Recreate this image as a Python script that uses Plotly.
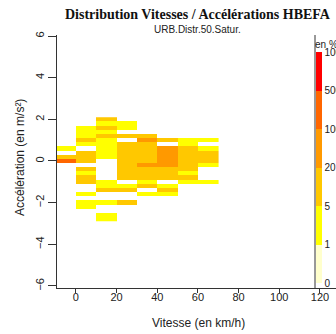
import numpy as np
import plotly.graph_objects as go

# --- data -------------------------------------------------------------
vitesse = [-5, 5, 15, 25, 35, 45, 55, 65]          # speed bin centres (km/h)
acceleration = [2.0, 1.8, 1.6, 1.4, 1.2, 1.0, 0.8, 0.6, 0.4, 0.2, 0.0,
                -0.2, -0.4, -0.6, -0.8, -1.0, -1.2, -1.4, -1.6, -1.8,
                -2.0, -2.2, -2.4, -2.6, -2.8]      # acceleration bin centres (m/s²)
N = None
# share per cell (en %), rows follow `acceleration`, columns follow `vitesse`
frequences = [
    [N,   N,  10, N,  N,  N,  N,  N],
    [N,   N,  2,  2,  N,  N,  N,  N],
    [N,   2,  10, 2,  N,  N,  N,  N],
    [N,   2,  2,  N,  N,  N,  N,  N],
    [N,   2,  10, 10, 10, N,  N,  N],
    [N,   10, 2,  N,  40, 10, 2,  2],
    [N,   2,  2,  10, 10, N,  2,  N],
    [2,   N,  2,  10, 10, 40, 10, 2],
    [N,   10, 2,  10, 10, 40, 10, 10],
    [10,  10, 2,  10, 10, 40, 10, 10],
    [150, 10, N,  10, 10, 40, 10, 10],
    [N,   N,  N,  10, 40, 40, 10, 2],
    [N,   10, N,  10, 10, 10, 10, N],
    [N,   2,  N,  10, 10, 10, 2,  N],
    [N,   10, N,  10, 10, 10, 10, N],
    [N,   10, 2,  N,  2,  N,  2,  2],
    [N,   N,  2,  2,  10, 2,  N,  N],
    [N,   N,  10, 10, N,  10, N,  N],
    [N,   2,  N,  N,  2,  2,  N,  N],
    [N,   N,  N,  N,  N,  N,  N,  N],
    [N,   2,  2,  10, N,  N,  N,  N],
    [N,   2,  N,  N,  N,  N,  N,  N],
    [N,   N,  N,  N,  N,  N,  N,  N],
    [N,   N,  2,  N,  N,  N,  N,  N],
    [N,   N,  2,  N,  N,  N,  N,  N],
]
classes = [0, 1, 5, 20, 100, 500, 1000]              # legend class limits
couleurs = ["#FFFFCC", "#FFFF00", "#FFC800", "#FF9900", "#FF6600", "#FF0000"]
x_ticks = [0, 20, 40, 60, 80, 100, 120]
y_ticks = [-6, -4, -2, 0, 2, 4, 6]

# --- map values to class index ----------------------------------------
vals = np.array([[np.nan if v is None else v for v in row] for row in frequences], float)
lev = np.where(np.isnan(vals), np.nan,
               np.clip(np.digitize(np.nan_to_num(vals), classes[1:-1]), 0, 5) + 0.5)

nc = len(couleurs)
cscale = []
for i, c in enumerate(couleurs):
    cscale.append([i / nc, c])
    cscale.append([(i + 1) / nc, c])

# --- geometry (pixels) --------------------------------------------------
W, H = 336, 334
L, R, T, B = 57, 0, 35, 46
pw, ph = W - L - R, H - T - B
def px(x):
    return (x - L) / pw
def py(y):
    return (H - B - y) / ph

font = "Liberation Sans, Arial, sans-serif"

fig = go.Figure(go.Heatmap(
    x=vitesse, y=acceleration, z=lev, zmin=0, zmax=nc,
    colorscale=cscale, hoverinfo="skip",
    colorbar=dict(
        thickness=6, thicknessmode="pixels",
        len=231, lenmode="pixels",
        x=px(316), xanchor="left", xpad=0,
        y=py(167.5), yanchor="middle", ypad=0,
        outlinewidth=0,
        tickvals=list(range(nc + 1)), ticktext=[str(c) for c in classes],
        ticks="", ticklen=0,
        tickfont=dict(family=font, size=10, color="#222"),
    ),
))

fig.update_layout(
    width=W, height=H,
    margin=dict(l=L, r=R, t=T, b=B, autoexpand=False),
    paper_bgcolor="white", plot_bgcolor="white",
    showlegend=False,
    xaxis=dict(range=[-9.3, 127.9], tickvals=x_ticks, ticks="outside", ticklen=4,
               tickcolor="#333", showline=True, linecolor="#333", linewidth=1,
               showgrid=False, zeroline=False, ticklabelstandoff=-5,
               tickfont=dict(family=font, size=11, color="#222")),
    yaxis=dict(range=[-6.1, 6.05], tickvals=y_ticks, ticks="outside", ticklen=8,
               tickcolor="#333", showline=True, linecolor="#333", linewidth=1,
               showgrid=False, zeroline=False, tickangle=-90,
               tickfont=dict(family=font, size=11, color="#222")),
    shapes=[dict(type="line", xref="paper", yref="paper",
                 x0=px(315), x1=px(315), y0=py(288), y1=py(35),
                 line=dict(color="#333", width=1))],
    annotations=[
        dict(text="<b>Distribution Vitesses / Accélérations HBEFA</b>",
             xref="paper", yref="paper", x=px(198), y=py(14),
             xanchor="center", yanchor="middle", showarrow=False,
             font=dict(family="Liberation Serif, Times New Roman, serif", size=14, color="#111")),
        dict(text="URB.Distr.50.Satur.", xref="paper", yref="paper",
             x=px(197), y=py(30), xanchor="center", yanchor="middle", showarrow=False,
             font=dict(family=font, size=10, color="#222")),
        dict(text="Vitesse (en km/h)", xref="paper", yref="paper",
             x=px(198), y=py(323), xanchor="center", yanchor="middle", showarrow=False,
             font=dict(family=font, size=12, color="#222")),
        dict(text="Accélération (en m/s²)", xref="paper", yref="paper",
             x=px(20), y=py(158), xanchor="center", yanchor="middle", showarrow=False,
             textangle=-90, font=dict(family=font, size=12, color="#222")),
        dict(text="en %", xref="paper", yref="paper",
             x=px(313), y=py(44), xanchor="left", yanchor="middle", showarrow=False,
             font=dict(family=font, size=10, color="#222")),
    ],
)

fig.write_html("out.html")
